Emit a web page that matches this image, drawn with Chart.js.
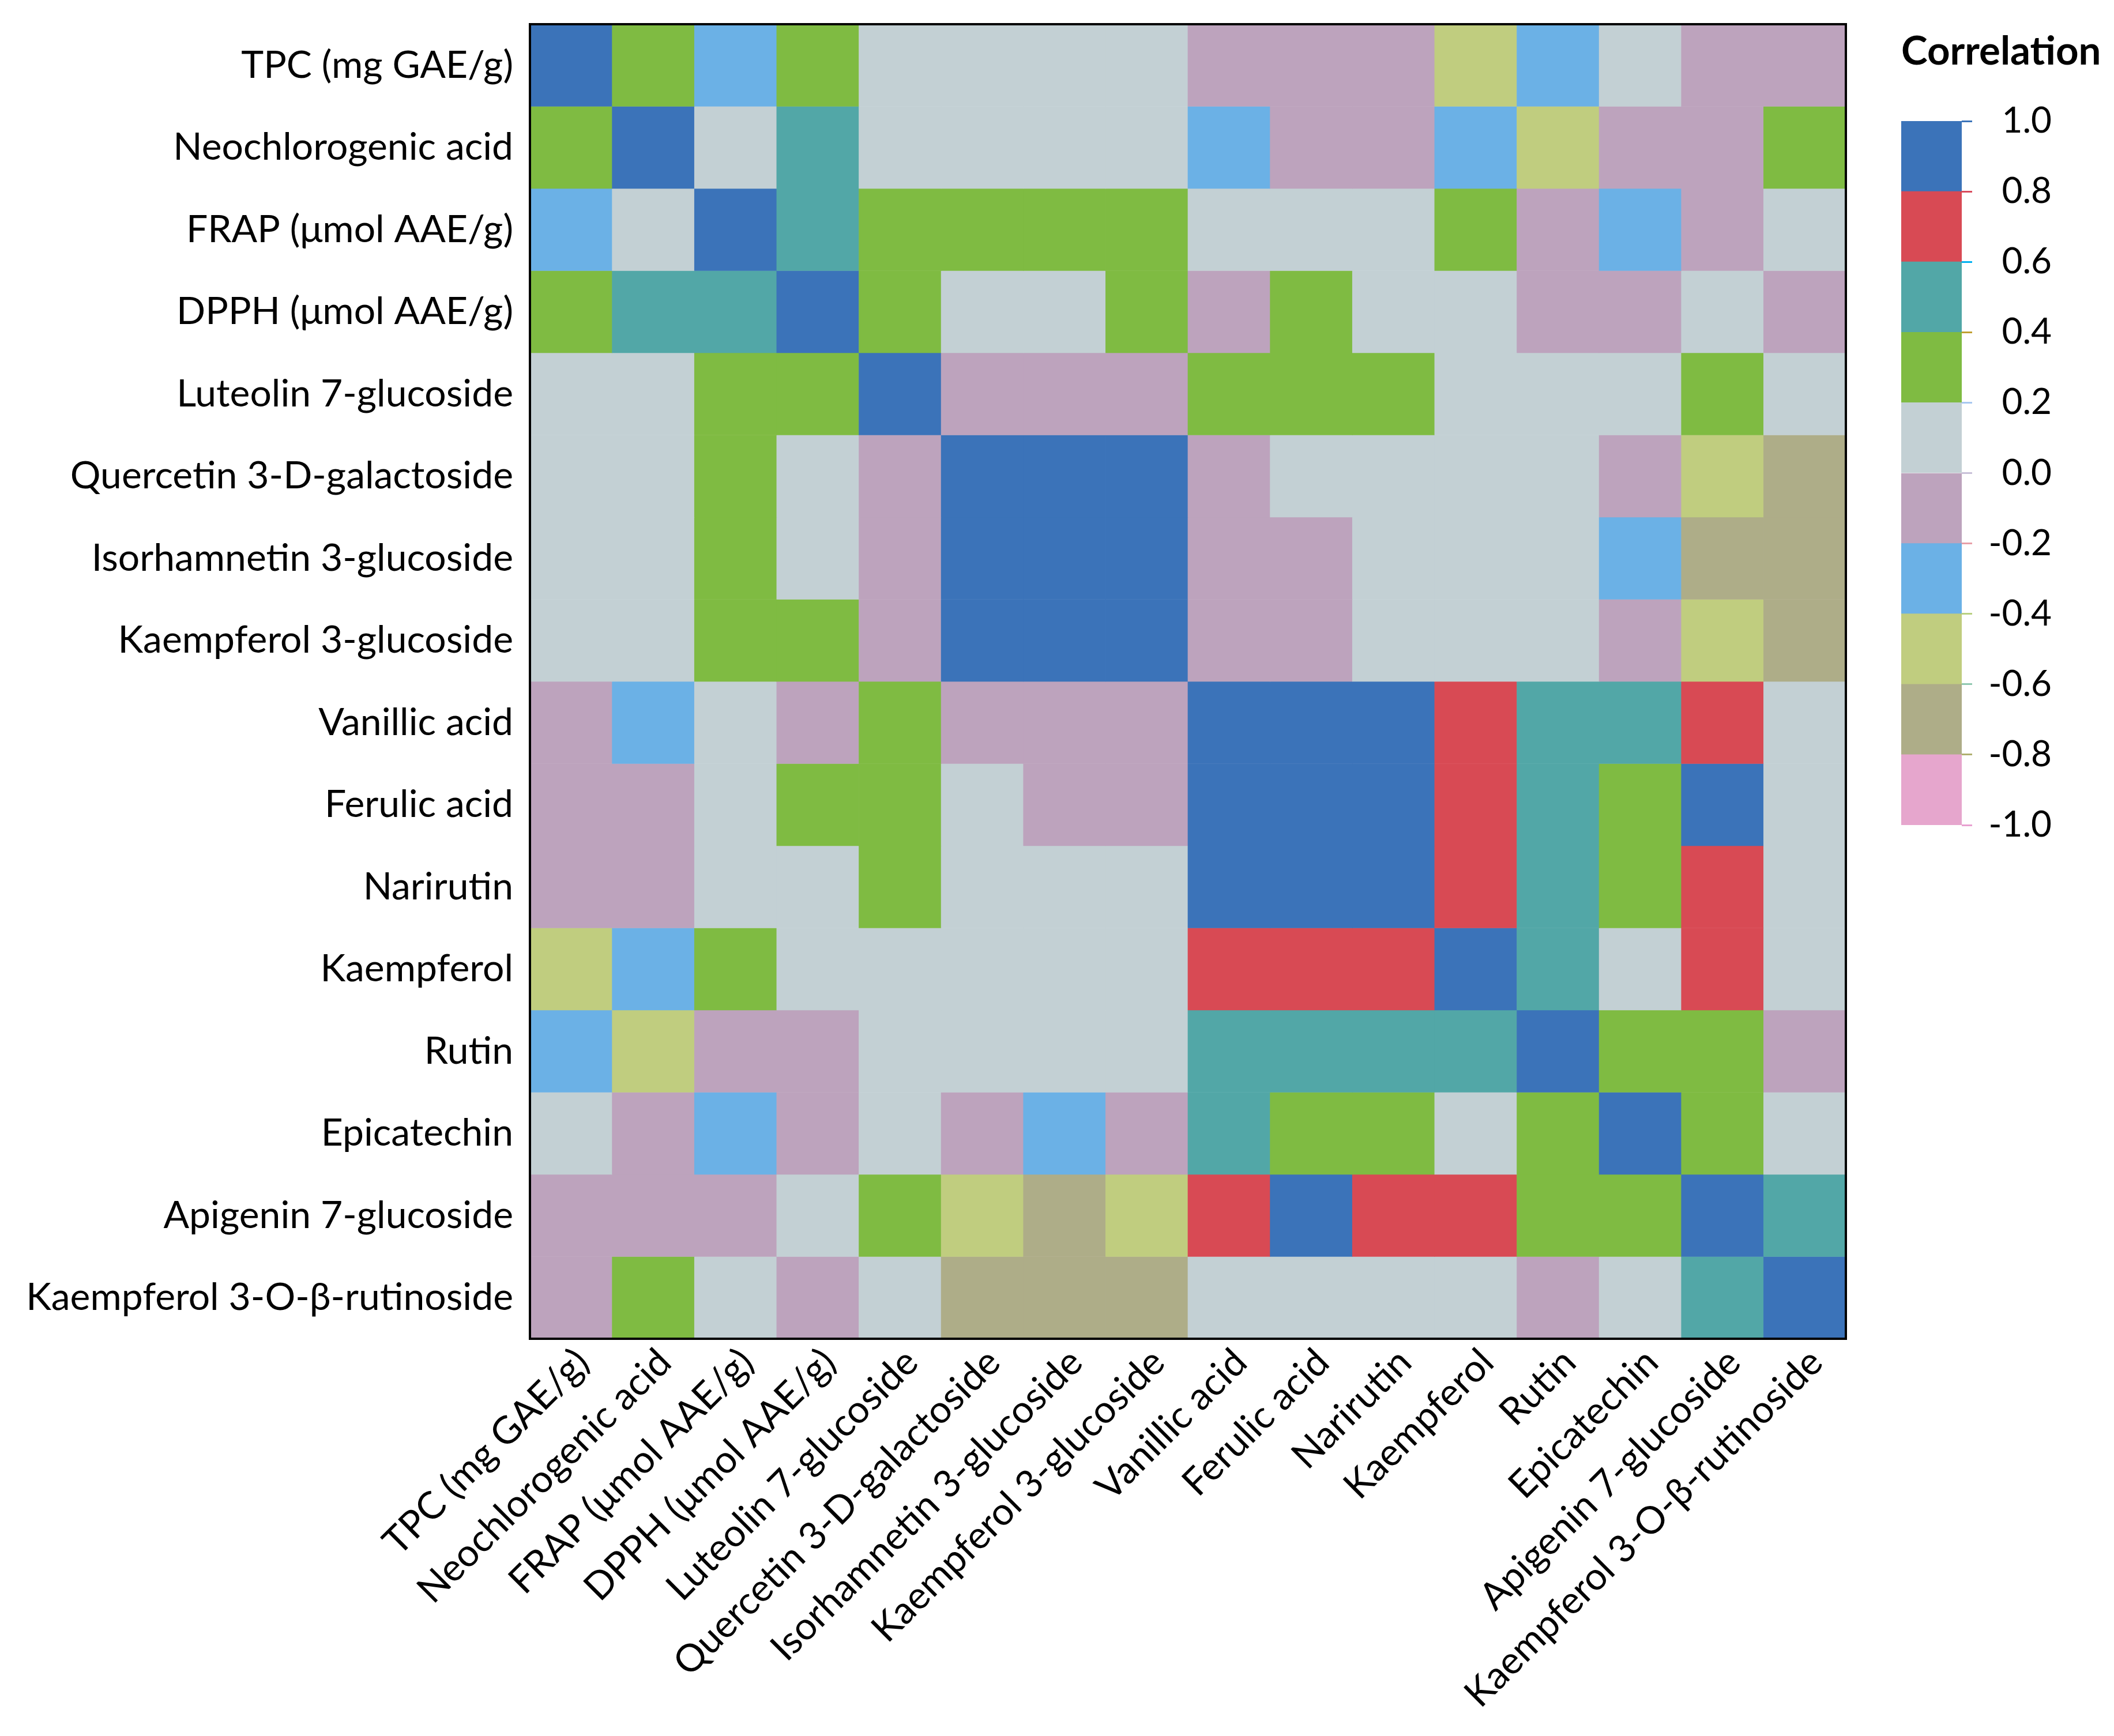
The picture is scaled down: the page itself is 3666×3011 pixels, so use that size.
<!DOCTYPE html>
<html>
<head>
<meta charset="utf-8">
<script src="https://cdn.jsdelivr.net/npm/chart.js@4.4.1/dist/chart.umd.min.js"></script>
<style>
    body { margin: 0; background: #ffffff; }
    #wrap { position: relative; width: 3666px; height: 3011px; }
    #heatChart { position: absolute; left: 0; top: 0; }
    #legendChart { position: absolute; left: 3250px; top: 0; }
    #legendTitle {
        position: absolute; left: 3297px; top: 44px;
        font: bold 69px Lato, sans-serif; color: #000;
    }
</style>
</head>
<body>
<div id="wrap">
    <canvas id="heatChart" width="3666" height="3011"></canvas>
    <canvas id="legendChart" width="416" height="1500"></canvas>
    <div id="legendTitle">Correlation</div>
</div>
<script>
// 变量名称 (行与列相同)
const varLabels = [
    'TPC (mg GAE/g)', 'Neochlorogenic acid', 'FRAP (μmol AAE/g)', 'DPPH (μmol AAE/g)',
    'Luteolin 7-glucoside', 'Quercetin 3-D-galactoside', 'Isorhamnetin 3-glucoside',
    'Kaempferol 3-glucoside', 'Vanillic acid', 'Ferulic acid', 'Narirutin', 'Kaempferol',
    'Rutin', 'Epicatechin', 'Apigenin 7-glucoside', 'Kaempferol 3-O-β-rutinoside'
];

// 相关系数 (按图中色块估计)
const rowTPC      = [ 1.0,  0.3, -0.3,  0.3,  0.1,  0.1,  0.1,  0.1, -0.1, -0.1, -0.1, -0.5, -0.3,  0.1, -0.1, -0.1];
const rowNeo      = [ 0.3,  1.0,  0.1,  0.5,  0.1,  0.1,  0.1,  0.1, -0.3, -0.1, -0.1, -0.3, -0.5, -0.1, -0.1,  0.3];
const rowFRAP     = [-0.3,  0.1,  1.0,  0.5,  0.3,  0.3,  0.3,  0.3,  0.1,  0.1,  0.1,  0.3, -0.1, -0.3, -0.1,  0.1];
const rowDPPH     = [ 0.3,  0.5,  0.5,  1.0,  0.3,  0.1,  0.1,  0.3, -0.1,  0.3,  0.1,  0.1, -0.1, -0.1,  0.1, -0.1];
const rowLut7g    = [ 0.1,  0.1,  0.3,  0.3,  1.0, -0.1, -0.1, -0.1,  0.3,  0.3,  0.3,  0.1,  0.1,  0.1,  0.3,  0.1];
const rowQue3gal  = [ 0.1,  0.1,  0.3,  0.1, -0.1,  1.0,  0.9,  0.9, -0.1,  0.1,  0.1,  0.1,  0.1, -0.1, -0.5, -0.7];
const rowIso3g    = [ 0.1,  0.1,  0.3,  0.1, -0.1,  0.9,  1.0,  0.9, -0.1, -0.1,  0.1,  0.1,  0.1, -0.3, -0.7, -0.7];
const rowKae3g    = [ 0.1,  0.1,  0.3,  0.3, -0.1,  0.9,  0.9,  1.0, -0.1, -0.1,  0.1,  0.1,  0.1, -0.1, -0.5, -0.7];
const rowVan      = [-0.1, -0.3,  0.1, -0.1,  0.3, -0.1, -0.1, -0.1,  1.0,  0.9,  0.9,  0.7,  0.5,  0.5,  0.7,  0.1];
const rowFer      = [-0.1, -0.1,  0.1,  0.3,  0.3,  0.1, -0.1, -0.1,  0.9,  1.0,  0.9,  0.7,  0.5,  0.3,  0.9,  0.1];
const rowNar      = [-0.1, -0.1,  0.1,  0.1,  0.3,  0.1,  0.1,  0.1,  0.9,  0.9,  1.0,  0.7,  0.5,  0.3,  0.7,  0.1];
const rowKae      = [-0.5, -0.3,  0.3,  0.1,  0.1,  0.1,  0.1,  0.1,  0.7,  0.7,  0.7,  1.0,  0.5,  0.1,  0.7,  0.1];
const rowRut      = [-0.3, -0.5, -0.1, -0.1,  0.1,  0.1,  0.1,  0.1,  0.5,  0.5,  0.5,  0.5,  1.0,  0.3,  0.3, -0.1];
const rowEpi      = [ 0.1, -0.1, -0.3, -0.1,  0.1, -0.1, -0.3, -0.1,  0.5,  0.3,  0.3,  0.1,  0.3,  1.0,  0.3,  0.1];
const rowApi7g    = [-0.1, -0.1, -0.1,  0.1,  0.3, -0.5, -0.7, -0.5,  0.7,  0.9,  0.7,  0.7,  0.3,  0.3,  1.0,  0.5];
const rowKae3rut  = [-0.1,  0.3,  0.1, -0.1,  0.1, -0.7, -0.7, -0.7,  0.1,  0.1,  0.1,  0.1, -0.1,  0.1,  0.5,  1.0];

const corrRows = [rowTPC, rowNeo, rowFRAP, rowDPPH, rowLut7g, rowQue3gal, rowIso3g, rowKae3g,
    rowVan, rowFer, rowNar, rowKae, rowRut, rowEpi, rowApi7g, rowKae3rut];

// 色阶分段 (-1.0 → 1.0)
const binEdges = [-1.0, -0.8, -0.6, -0.4, -0.2, 0.0, 0.2, 0.4, 0.6, 0.8, 1.0];
const binColors = ['#e6a6cd', '#aead88', '#c0cd7f', '#6bb1e6', '#bda3bd',
    '#c3d0d4', '#7fbb42', '#52a7a7', '#d84a54', '#3b73b9'];
const legendTickColors = ['#e8a0d0', '#b0b070', '#90c8b0', '#b8d080', '#e8a0a8',
    '#c8c0d8', '#a8c8f0', '#c0a030', '#00b0f0', '#d84a5c', '#3b73b9'];

const FONT = 'Lato, sans-serif';

function colorFor(v) {
    let i = Math.floor((v + 1) / 0.2 + 1e-9);
    if (i > 9) i = 9;
    if (i < 0) i = 0;
    return binColors[i];
}

// 外框
const framePlugin = {
    id: 'frame',
    afterDatasetsDraw(chart) {
        const { ctx, chartArea: a } = chart;
        ctx.save();
        ctx.lineWidth = 4;
        ctx.strokeStyle = '#000000';
        ctx.strokeRect(a.left, a.top, a.right - a.left, a.bottom - a.top);
        ctx.restore();
    }
};

function initHeatmap() {
    const datasets = corrRows.map((row, r) => ({
        label: varLabels[r],
        data: row.map(() => 1),
        backgroundColor: row.map(colorFor),
        borderWidth: 0,
        barPercentage: 1,
        categoryPercentage: 1
    }));

    new Chart(document.getElementById('heatChart'), {
        type: 'bar',
        data: { labels: varLabels, datasets },
        options: {
            responsive: false,
            animation: false,
            devicePixelRatio: 1,
            layout: { padding: { left: 0, top: 42, right: 465, bottom: 0 } },
            plugins: { legend: { display: false }, tooltip: { enabled: false } },
            scales: {
                x: {
                    stacked: true,
                    grid: { display: false },
                    border: { display: false },
                    ticks: {
                        autoSkip: false,
                        maxRotation: 45,
                        minRotation: 45,
                        padding: -6,
                        labelOffset: 20,
                        color: '#000000',
                        font: { family: FONT, size: 66 }
                    },
                    afterFit: scale => {
                        scale.height = 3011 - 2322;
                        scale.paddingLeft = 0;
                        scale.paddingRight = 0;
                    }
                },
                y: {
                    stacked: true,
                    reverse: true,
                    min: 0,
                    max: varLabels.length,
                    grid: { display: false },
                    border: { display: false },
                    afterBuildTicks: scale => {
                        scale.ticks = varLabels.map((_, i) => ({ value: i + 0.5 }));
                    },
                    ticks: {
                        padding: 21,
                        color: '#000000',
                        font: { family: FONT, size: 66 },
                        callback: value => varLabels[Math.floor(value)]
                    },
                    afterFit: scale => {
                        scale.width = 919;
                        scale.paddingTop = 0;
                        scale.paddingBottom = 0;
                    }
                }
            }
        },
        plugins: [framePlugin]
    });
}

function initLegend() {
    const datasets = binColors.map((c, i) => ({
        data: [[binEdges[i], binEdges[i + 1]]],
        backgroundColor: c,
        borderWidth: 0,
        barPercentage: 1,
        categoryPercentage: 1,
        grouped: false
    }));

    new Chart(document.getElementById('legendChart'), {
        type: 'bar',
        data: { labels: [''], datasets },
        options: {
            responsive: false,
            animation: false,
            devicePixelRatio: 1,
            layout: { padding: { left: 47, top: 210, right: 108, bottom: 69 } },
            plugins: { legend: { display: false }, tooltip: { enabled: false } },
            scales: {
                x: { display: false },
                y: {
                    position: 'right',
                    min: -1,
                    max: 1,
                    border: { display: false },
                    grid: {
                        drawOnChartArea: false,
                        drawTicks: true,
                        tickLength: 18,
                        tickWidth: 3,
                        tickColor: ctx => legendTickColors[ctx.index]
                    },
                    ticks: {
                        stepSize: 0.2,
                        crossAlign: 'far',
                        padding: 28,
                        color: '#000000',
                        font: { family: FONT, size: 62 },
                        callback: v => (Math.abs(v) < 1e-9 ? 0 : v).toFixed(1)
                    },
                    afterFit: scale => {
                        scale.width = 156;
                        scale.paddingTop = 0;
                        scale.paddingBottom = 0;
                    }
                }
            }
        }
    });
}

document.addEventListener('DOMContentLoaded', () => {
    initHeatmap();
    initLegend();
});
</script>
</body>
</html>
